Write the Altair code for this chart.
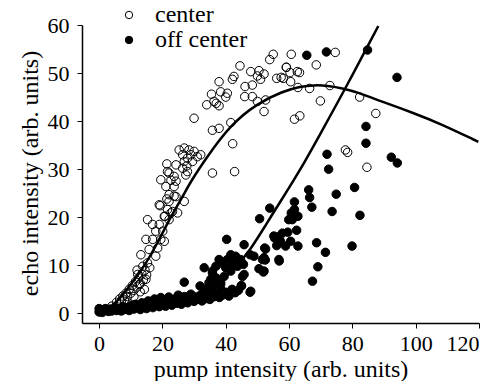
import altair as alt
import pandas as pd

# ---- data ----
center_x = [60.7, 68.6, 74.6, 59.1, 60.3, 63.3, 58.2, 60.5, 62.8, 66.5, 72.9, 69.9, 82.3, 87.4, 61.7, 63.4, 77.8, 78.5, 84.6,
            55.0, 53.9, 44.5, 47.9, 50.5, 50.0, 52.1, 51.0, 56.1, 57.5, 59.2, 62.6,
            42.6, 42.1, 37.9, 46.1, 48.4, 46.0, 48.4, 50.0, 52.6, 52.1,
            38.4, 40.5, 40.0, 35.5, 34.0, 36.3, 37.9, 37.0,
            30.0, 41.6, 35.8, 37.9, 42.2, 35.8, 42.8,
            25.3, 26.9, 28.4, 30.0, 32.1, 26.4, 27.9, 29.0, 26.9, 27.7, 26.4, 27.9, 27.4, 29.5, 31.0,
            21.4, 24.3, 21.6, 23.7, 22.7, 21.1, 23.7, 22.1, 21.4, 23.7, 26.9, 19.3, 21.6, 22.7, 24.8, 20.8,
            19.5, 22.1, 24.3, 24.3, 19.0, 22.1, 20.6, 23.2, 22.1, 15.3, 16.9, 19.0, 20.1, 17.9, 14.8, 16.9,
            19.5, 20.6, 13.2, 15.8, 18.5, 17.9, 15.3, 13.8, 12.2, 14.8, 12.7, 14.3,
            3.0, 4.0, 5.0, 5.5, 6.0, 6.5, 7.0, 7.5, 8.0, 8.5, 9.0, 9.5, 10.0, 10.5, 11.0, 11.5, 12.0, 12.5,
            13.0, 13.5, 14.0, 14.5, 15.0, 9.0, 11.0, 13.0, 12.0, 16.0]
center_y = [53.9, 51.7, 54.3, 51.2, 50.1, 50.1, 48.9, 48.2, 47.0, 46.8, 47.4, 44.2, 45.0, 41.6, 40.4, 41.1, 34.0, 33.5, 30.4,
            53.9, 52.8, 51.5, 50.3, 50.5, 49.4, 49.8, 48.7, 48.9, 49.1, 51.2, 50.3,
            49.3, 48.7, 48.2, 47.2, 47.5, 45.1, 45.1, 44.1, 44.4, 42.0,
            46.1, 45.8, 45.0, 45.6, 43.4, 44.1, 43.2, 43.7,
            40.6, 39.7, 38.1, 38.5, 35.3, 29.2, 29.5,
            34.0, 34.4, 34.0, 33.7, 33.0, 33.0, 32.3, 33.0, 31.6, 30.7, 30.2, 29.5, 28.8, 31.6, 32.6,
            31.1, 30.9, 29.5, 28.5, 27.7, 26.4, 26.4, 24.7, 23.8, 24.4, 23.3, 22.4, 21.6, 20.9, 20.9, 20.2,
            27.8, 29.2, 27.5, 24.3, 22.6, 23.3, 20.2, 21.2, 19.5, 19.5, 18.5, 18.5, 17.1, 17.1, 15.4, 15.4,
            15.4, 15.0, 12.2, 13.3, 13.6, 11.9, 10.5, 9.8, 8.1, 7.1, 6.0, 5.0,
            0.8, 1.5, 1.2, 2.3, 1.8, 3.0, 2.4, 3.6, 2.8, 4.2, 3.5, 5.0, 4.2, 5.8, 4.8, 6.6, 5.5, 7.4,
            6.2, 8.2, 7.0, 9.0, 8.0, 2.2, 3.5, 4.5, 9.0, 9.5]

off_x = [65.6, 71.8, 84.8, 94.1, 84.3, 84.3, 72.0, 92.3, 94.2, 72.5,
         66.2, 66.5, 67.2, 74.9, 80.7, 73.6, 82.4,
         61.7, 61.7, 62.8, 61.0, 62.4, 60.5, 62.8, 68.7, 71.5, 79.9, 69.1, 67.4,
         60.7, 59.9, 53.9, 50.7,
         57.9, 59.6, 56.8, 55.4, 57.3, 56.1,
         52.6, 52.1, 52.5, 56.9, 50.5, 51.9,
         40.3, 45.8, 47.7,
         41.6, 43.1, 44.7, 40.5, 38.4, 42.1, 40.0, 43.7, 45.6,
         37.9, 36.9, 35.8, 35.3, 33.2,
         45.3, 44.9, 47.7,
         39.5, 38.4, 36.3, 33.7, 34.2, 36.9,
         26.9, 35.8, 36.9, 34.7, 31.9, 38.4, 42.6, 41.6, 45.8, 45.0, 47.9, 48.9, 51.6, 52.1, 52.3, 56.8, 58.9, 55.2,
         0.0, 0.5, 0.0, 1.0, 1.5, 2.0, 3.0, 3.5, 4.0, 5.0, 5.5, 6.0, 7.0, 7.5, 8.0, 9.0, 9.5, 10.0, 11.0, 11.5,
         12.0, 13.0, 13.5, 14.0, 15.0, 15.5, 16.0, 17.0, 17.5, 18.0, 19.0, 19.5, 20.0, 21.0, 22.0, 22.5, 23.0,
         24.0, 24.5, 25.0, 26.0, 26.5, 27.0, 28.0, 28.5, 29.0, 30.0, 30.5, 31.0, 32.0, 32.5, 33.0, 34.0, 34.5,
         35.0, 36.0, 36.5, 37.0, 38.0, 38.5, 39.0, 40.0, 41.0, 42.0, 43.0, 44.0]
off_y = [53.7, 54.4, 54.8, 49.1, 38.9, 35.4, 33.1, 32.5, 31.3, 30.0,
         25.7, 24.1, 22.1, 24.8, 26.2, 21.2, 20.4,
         23.2, 21.6, 20.2, 19.5, 17.3, 15.0, 14.0, 14.7, 12.7, 14.0, 9.7, 6.7,
         20.9, 19.5, 21.9, 19.7,
         16.7, 16.9, 16.0, 15.7, 15.0, 14.1,
         13.4, 11.6, 11.1, 10.9, 9.3, 8.6,
         15.4, 14.3, 12.2,
         12.2, 11.9, 11.2, 11.2, 10.5, 10.2, 9.5, 9.8, 10.2,
         11.2, 9.8, 8.8, 7.1, 9.5,
         7.7, 5.8, 4.4,
         7.7, 6.4, 6.0, 5.0, 3.6, 3.6,
         6.5, 8.4, 7.4, 6.4, 5.7, 6.0, 11.2, 8.8, 8.1, 5.7, 4.6, 11.9, 11.2, 8.8, 13.6, 11.2, 14.0, 16.1,
         0.3, 0.8, 1.0, 0.2, 0.6, 1.0, 0.4, 0.9, 0.5, 1.2, 0.6, 0.9, 0.5, 1.4, 0.8, 1.1, 0.6, 1.6, 0.9, 1.9,
         1.2, 0.8, 2.2, 1.4, 1.0, 2.6, 1.7, 1.2, 3.0, 2.0, 1.4, 3.3, 2.3, 1.5, 3.4, 2.5, 1.7,
         3.0, 2.1, 3.8, 1.9, 2.7, 3.5, 2.2, 3.1, 4.0, 2.5, 3.4, 2.9, 3.8, 2.6, 4.3, 3.1, 3.9,
         2.9, 4.6, 3.5, 4.0, 3.3, 4.9, 3.8, 4.4, 3.6, 5.0, 4.3, 4.8]

fit_center_x = [0, 3, 5, 7, 10, 14.3, 18.5, 22.7, 26.4, 29, 34, 41.6, 50, 58, 63.6, 68, 72, 77.3, 82, 88.8, 99.3, 107.7, 119.8]
fit_center_y = [0.2, 0.9, 2.1, 3.6, 6.0, 9.8, 14.7, 20.2, 24.3, 27.5, 32.5, 39.3, 43.7, 46.2, 47.2, 47.5, 47.4, 46.8, 45.9, 44.2, 41.7, 39.5, 35.7]
fit_off_x = [0, 10, 20, 30, 36, 42.6, 47.9, 53, 57.3, 63.6, 70, 77.8, 88.2]
fit_off_y = [0.2, 0.6, 1.5, 3.2, 5.4, 9.1, 13.3, 18.8, 23.3, 29.9, 37.5, 46.8, 59.8]

x_ticks = [0, 20, 40, 60, 80, 100, 120]
y_ticks = [0, 10, 20, 30, 40, 50, 60]

# ---- tables ----
pts = pd.concat([
    pd.DataFrame({"x": off_x, "y": off_y, "series": "off center"}),
    pd.DataFrame({"x": center_x, "y": center_y, "series": "center"}),
], ignore_index=True)
pts["order"] = range(len(pts))

fits = pd.concat([
    pd.DataFrame({"x": fit_center_x, "y": fit_center_y, "curve": "center"}),
    pd.DataFrame({"x": fit_off_x, "y": fit_off_y, "curve": "off"}),
], ignore_index=True)

FONT = "Liberation Serif"
LBL = 22
TTL = 24
xs = alt.Scale(domain=[-5.4, 120], nice=False, zero=False)
ys = alt.Scale(domain=[-2, 60], nice=False, zero=False)

points = alt.Chart(pts).mark_point(
    shape="circle", filled=True, stroke="black", strokeWidth=1, opacity=1, size=72
).encode(
    x=alt.X("x:Q", scale=xs, axis=alt.Axis(values=x_ticks, title="pump intensity (arb. units)",
                                           labelFont=FONT, labelFontSize=LBL, titleFont=FONT,
                                           titleFontSize=TTL, titleY=34, labelPadding=5)),
    y=alt.Y("y:Q", scale=ys, axis=alt.Axis(values=y_ticks, title="echo intensity (arb. units)",
                                           labelFont=FONT, labelFontSize=LBL, titleFont=FONT,
                                           titleFontSize=TTL, titleX=-40, titleY=148, labelPadding=8)),
    fill=alt.Fill("series:N",
                  scale=alt.Scale(domain=["center", "off center"], range=["transparent", "black"]),
                  legend=alt.Legend(title=None, orient="none", legendX=35, legendY=-22,
                                    symbolType="circle", symbolSize=55, symbolStrokeColor="black",
                                    symbolStrokeWidth=1, symbolOpacity=1, labelFont=FONT,
                                    labelFontSize=TTL, labelColor="black", labelOffset=14,
                                    rowPadding=1)),
    order="order:Q",
)

lines = alt.Chart(fits).mark_line(color="black", strokeWidth=2.5, interpolate="basis").encode(
    x=alt.X("x:Q", scale=xs),
    y=alt.Y("y:Q", scale=ys),
    detail="curve:N",
)

chart = alt.layer(points, lines).properties(
    width=397, height=298,
    autosize=alt.AutoSizeParams(type="none"),
    padding={"left": 82, "top": 25, "right": 21, "bottom": 58},
).configure_view(stroke=None).configure_axis(
    grid=False, labelFont=FONT, titleFont=FONT,
    titleFontWeight="normal", labelColor="black", titleColor="black",
    domainColor="black", domainWidth=1.5, tickColor="black", tickWidth=1, tickSize=5,
)

chart.save("out.html", embed_options={"renderer": "svg", "actions": False})
